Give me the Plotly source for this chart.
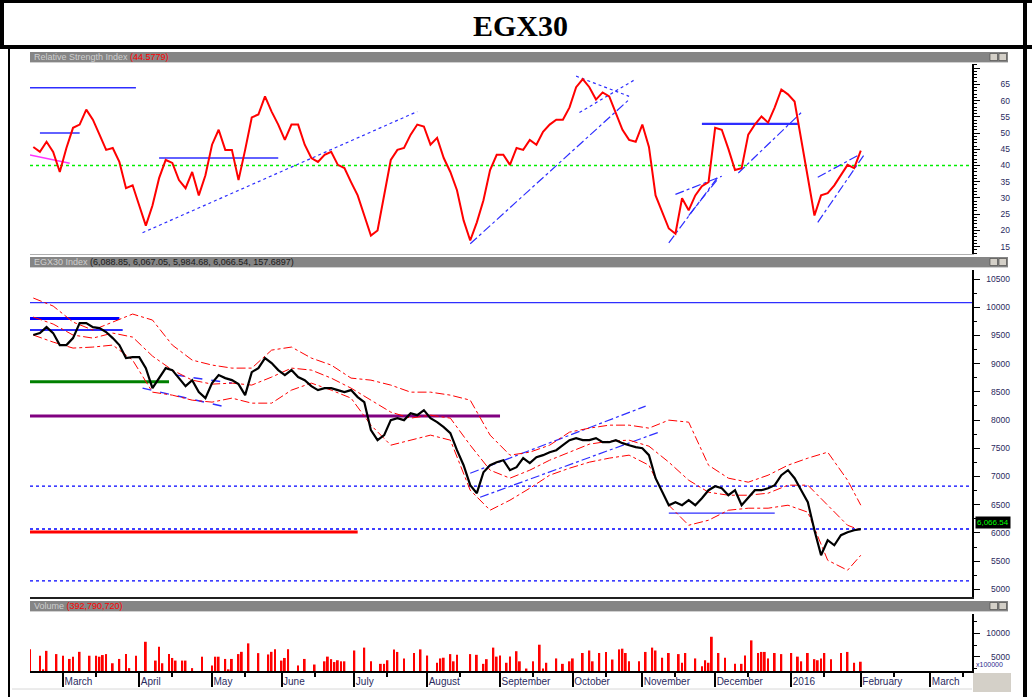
import plotly.graph_objects as go
import pandas as pd

W, H = 1032, 697


def px(x):
    return x / W


def py(y):
    return 1 - y / H


# ------------------------------------------------------------------ data
# RSI (every second trading day)
rsi_value = [45.7, 44.2, 47.3, 44.2, 38.0, 45.4, 51.6, 52.6, 57.2, 54.1,
             49.5, 44.8, 45.4, 41.1, 33.0, 33.9, 27.7, 21.5, 27.7, 36.1,
             41.7, 40.8, 35.5, 33.0, 38.0, 30.8, 37.0, 46.4, 51.0, 44.8,
             44.8, 35.5, 44.8, 54.8, 55.7, 61.3, 56.6, 52.6, 47.9, 52.6,
             52.6, 46.4, 42.3, 41.1, 43.3, 44.2, 40.2, 39.2, 34.9, 30.8,
             24.6, 18.4, 20.0, 30.8, 41.7, 44.8, 45.4, 49.5, 52.6, 52.0,
             46.4, 48.5, 42.3, 38.0, 32.4, 23.1, 16.9, 22.5, 29.3, 38.6,
             43.3, 43.3, 40.2, 45.4, 44.8, 47.9, 46.4, 50.4, 52.6, 54.1,
             54.1, 57.9, 64.1, 66.6, 64.1, 60.3, 62.5, 61.3, 56.3, 51.0,
             47.9, 47.3, 52.6, 45.7, 30.8, 25.6, 20.6, 19.0, 29.9, 26.2,
             30.8, 33.6, 34.9, 51.6, 51.0, 45.1, 38.6, 39.2, 49.5, 52.6,
             55.1, 53.2, 57.9, 63.4, 61.9, 59.7, 47.9, 35.5, 24.6, 30.8,
             31.5, 33.9, 37.0, 40.2, 39.2, 44.58]

# EGX30 close (every second trading day)
close_value = [9507, 9542, 9648, 9542, 9329, 9329, 9453, 9719, 9719, 9648,
               9631, 9560, 9453, 9329, 9099, 9116, 9116, 8921, 8566, 8744,
               8921, 8886, 8744, 8602, 8708, 8495, 8389, 8655, 8797, 8744,
               8708, 8637, 8442, 8850, 8921, 9099, 9010, 8886, 8797, 8886,
               8762, 8708, 8602, 8531, 8566, 8566, 8531, 8495, 8531, 8407,
               8318, 7821, 7644, 7733, 7999, 8034, 7999, 8123, 8087, 8176,
               8034, 7963, 7874, 7768, 7466, 7200, 6846, 6704, 7076, 7200,
               7254, 7289, 7112, 7165, 7325, 7236, 7342, 7378, 7431, 7466,
               7555, 7644, 7679, 7644, 7644, 7679, 7608, 7608, 7644, 7591,
               7555, 7520, 7502, 7378, 6970, 6721, 6491, 6544, 6491, 6580,
               6491, 6615, 6757, 6828, 6792, 6668, 6757, 6491, 6633, 6757,
               6757, 6792, 6846, 7023, 7112, 6970, 6757, 6544, 6047, 5604,
               5870, 5781, 5959, 6012, 6047, 6066.54]

# Bollinger bands (every sixth trading day)
band_upper = [10163, 10021, 9737, 9595, 9737, 9879, 9773, 9329, 9063, 8975,
              8921, 8921, 9240, 9294, 9099, 8975, 8744, 8708, 8620, 8495,
              8495, 8442, 8353, 7733, 7378, 7431, 7555, 7786, 7857, 7910,
              7910, 7857, 7999, 7963, 7200, 6970, 6899, 7023, 7200, 7325,
              7431, 6934, 6491]
band_middle = [9826, 9702, 9507, 9453, 9542, 9471, 9134, 8886, 8708, 8637,
               8655, 8620, 8762, 8921, 8886, 8744, 8566, 8353, 8141, 8034,
               8087, 8034, 7555, 7112, 6970, 7112, 7289, 7431, 7573, 7626,
               7644, 7537, 7254, 6934, 6721, 6668, 6668, 6704, 6846, 6846,
               6491, 6136, 6047]
band_lower = [9507, 9382, 9276, 9294, 9329, 9063, 8495, 8442, 8353, 8318,
              8389, 8300, 8300, 8531, 8655, 8531, 8389, 7910, 7555, 7644,
              7733, 7644, 6757, 6402, 6580, 6792, 7023, 7147, 7254, 7325,
              7378, 7200, 6491, 6136, 6225, 6402, 6438, 6438, 6491, 6367,
              5515, 5338, 5604]

# Volume (trading-day number, volume in units of 100,000)
vol_day = [0, 3, 4, 5, 8, 10, 12, 13, 15, 18, 20, 21, 22, 23, 25, 27, 29, 30,
           32, 35, 38, 39, 40, 42, 43, 44, 46, 47, 49, 52, 55, 56, 57, 59, 60,
           61, 63, 64, 66, 69, 72, 73, 74, 76, 77, 78, 81, 83, 86,
           89, 90, 91, 92, 93, 94, 95, 98, 101, 103, 106, 107, 108, 110, 111,
           113, 116, 118, 120, 123, 124, 125, 127, 128, 129, 133, 135, 137,
           138, 140, 141, 142, 144, 145, 147, 148, 150, 152, 154, 155, 156,
           159, 161, 163, 164, 167, 169, 170, 172, 174, 176, 178, 179, 180,
           181, 184, 186, 188, 189, 191, 193, 196, 197, 198, 201, 203, 204,
           205, 206, 208, 210, 213, 215, 216, 218, 220, 221, 222, 223, 225,
           227, 230, 232, 233, 235, 237, 238, 239, 240, 242, 245, 247, 249, 251]
vol_value = [6600, 5210, 2300, 6250, 5560, 5210, 4520, 5000, 6040, 5210, 5210,
             5000, 5350, 5560, 3600, 4520, 5560, 2560, 5210, 8190, 4170, 7150,
             3600, 5560, 4730, 4170, 4170, 4170, 2560, 5000, 3130, 5000, 5000,
             4520, 2300, 4520, 5560, 6040, 7850, 5770, 5480, 6040, 6600, 4170,
             4730, 6600, 3130, 4520, 3330,
             4013, 5016, 4476, 3858, 4244, 4013, 4013, 6327, 6944, 4013, 3473,
             3473, 4244, 6559, 6019, 4630, 5787, 6559, 5247, 3704, 4630, 4784,
             5556, 4013, 5401, 5556, 5401, 3473, 4476, 6944, 5016, 5247, 3704,
             5016, 6173, 4013, 2470, 4013, 7562, 2470, 3704, 4630, 3473, 4013,
             4630, 5787, 6327, 4013, 5787, 6019, 4399, 6559, 6713, 5787, 4013,
             4013, 6019, 6944, 6327, 4784, 5787, 5556, 3704, 5787, 4630, 2933,
             4244, 3704, 9259, 5787, 4784, 3473, 3473, 5247, 8487, 5787, 6019,
             6019, 4630, 5787, 5556, 5787, 5016, 4013, 5787, 4476, 4244, 4630,
             5787, 4476, 5787, 6019, 3704, 3928]

# analyst lines on the RSI pane (trading day, RSI value)
rsi_seg_day0 = [0, 0, 3, 39, 34, 165, 166, 133, 193, 195, 199, 214, 203, 238, 238, 0]
rsi_seg_day1 = [32, 12, 15, 75, 117, 181, 183, 181, 208, 209, 208, 233, 232, 252, 250, 285]
rsi_seg_val0 = [63.9, 43.2, 50.0, 42.3, 19.3, 67.5, 56.3, 15.9, 16.2, 31.1, 24.6, 37.7, 52.8, 22.5, 36.4, 40]
rsi_seg_val1 = [63.9, 40.7, 50.0, 42.3, 56.6, 61.3, 66.6, 60.3, 36.7, 36.7, 36.1, 56.3, 52.8, 43.3, 43.0, 40]

# analyst lines on the price pane (trading day, index level)
price_seg_day0 = [0, 0, 0, 0, 0, 0, 0, 0, 0, 193, 133, 136, 34, 44]
price_seg_day1 = [285, 27, 28, 42, 142, 99, 285, 285, 285, 225, 186, 190, 58, 61]
price_seg_val0 = [10080, 9802, 9596, 8680, 8072, 6016, 6831, 6069, 5149, 6350, 7058, 6632, 8566, 8797]
price_seg_val1 = [10080, 9802, 9596, 8680, 8072, 6016, 6831, 6069, 5149, 6350, 8247, 7786, 8247, 8655]

rsi_tick_vals = [15, 20, 25, 30, 35, 40, 45, 50, 55, 60, 65]
price_tick_vals = [5000, 5500, 6000, 6500, 7000, 7500, 8000, 8500, 9000, 9500, 10000, 10500]
vol_tick_vals = [5000, 10000]

# ------------------------------------------------------------------ styles
BLUE = "#2e2eff"
rsi_seg_style = [(BLUE, 1.5, "solid"), ("#ff33ff", 1.5, "solid"), (BLUE, 1.5, "solid"),
                 (BLUE, 1.5, "solid"), (BLUE, 1.2, "dot"), (BLUE, 1.2, "dot"),
                 (BLUE, 1.2, "dot"), (BLUE, 1.2, "dashdot"), (BLUE, 1.2, "dashdot"),
                 (BLUE, 1.2, "dashdot"), (BLUE, 1.2, "dashdot"), (BLUE, 1.2, "dashdot"),
                 (BLUE, 2.2, "solid"), (BLUE, 1.2, "dashdot"), (BLUE, 1.2, "dashdot"),
                 ("#00ee00", 1.5, "dot")]
price_seg_style = [(BLUE, 1.3, "solid"), ("#0000ff", 3, "solid"), (BLUE, 2, "solid"),
                   ("#008000", 3, "solid"), ("#800080", 3, "solid"), ("#ff0000", 3, "solid"),
                   ("#0000ff", 1.3, "dot"), ("#0000ff", 1.3, "dot"), ("#0000ff", 1.3, "dot"),
                   (BLUE, 1.3, "solid"), (BLUE, 1.2, "dashdot"), (BLUE, 1.2, "dashdot"),
                   (BLUE, 1.5, "dash"), (BLUE, 1.5, "dash")]

grid_day = list(range(1, 252, 2))
band_day = list(range(1, 248, 6)) + [251]

X_END = 284.6
trade_dates = pd.bdate_range(start="2015-02-15", periods=300, freq="C",
                             weekmask="Sun Mon Tue Wed Thu")
month_idx, month_txt, mid_idx = [], [], []
for k in range(1, len(trade_dates)):
    if k > X_END:
        break
    d, p = trade_dates[k], trade_dates[k - 1]
    if d.month != p.month:
        month_idx.append(k)
        month_txt.append("2016" if d.month == 1 else d.strftime("%B"))
    elif d.day >= 15 and p.day < 15:
        mid_idx.append(k)

fig = go.Figure()

# RSI pane
for i in range(len(rsi_seg_day0)):
    c, w, dsh = rsi_seg_style[i]
    fig.add_trace(go.Scatter(x=[rsi_seg_day0[i], rsi_seg_day1[i]],
                             y=[rsi_seg_val0[i], rsi_seg_val1[i]],
                             mode="lines", line=dict(color=c, width=w, dash=dsh),
                             xaxis="x", yaxis="y", hoverinfo="skip"))
fig.add_trace(go.Scatter(x=grid_day, y=rsi_value, mode="lines",
                         line=dict(color="#ff0000", width=2), xaxis="x", yaxis="y"))

# price pane
for i in range(len(price_seg_day0)):
    c, w, dsh = price_seg_style[i]
    fig.add_trace(go.Scatter(x=[price_seg_day0[i], price_seg_day1[i]],
                             y=[price_seg_val0[i], price_seg_val1[i]],
                             mode="lines", line=dict(color=c, width=w, dash=dsh),
                             xaxis="x2", yaxis="y2", hoverinfo="skip"))
for band in (band_upper, band_middle, band_lower):
    fig.add_trace(go.Scatter(x=band_day, y=band, mode="lines",
                             line=dict(color="#ff0000", width=1, dash="dashdot"),
                             xaxis="x2", yaxis="y2"))
fig.add_trace(go.Scatter(x=grid_day, y=close_value, mode="lines",
                         line=dict(color="#000000", width=2.2), xaxis="x2", yaxis="y2"))

# volume pane
fig.add_trace(go.Bar(x=vol_day, y=vol_value, width=0.55,
                     marker=dict(color="#ff0000", line=dict(width=0)),
                     xaxis="x3", yaxis="y3"))

# carriers so the right-hand label axes get drawn (nothing visible)
for xa, ya in (("x", "y4"), ("x2", "y5"), ("x3", "y6")):
    fig.add_trace(go.Scatter(x=[None], y=[None], mode="markers", xaxis=xa, yaxis=ya,
                             hoverinfo="skip", showlegend=False))

TICKFONT = dict(family="Liberation Sans", size=8.5, color="#2a2a5e")
xdom = [px(30), px(972)]
xbase = dict(domain=xdom, range=[0, X_END], showgrid=False, zeroline=False, fixedrange=True)


def line_axis(dom, rng, dtick, minor_dtick):
    return dict(domain=dom, range=rng, side="right", showline=True, linecolor="black",
                linewidth=2, ticks="outside", ticklen=6, tickcolor="black",
                tickmode="linear", tick0=0, dtick=dtick, showticklabels=False,
                showgrid=False, zeroline=False, fixedrange=True,
                minor=dict(dtick=minor_dtick, tick0=0, ticks="outside", ticklen=3,
                           tickcolor="black", showgrid=False))


def label_axis(base, rng, vals):
    return dict(overlaying=base, side="left", anchor="free", position=px(1010),
                range=rng, tickmode="array", tickvals=vals,
                ticktext=[str(v) for v in vals], ticks="", showline=False,
                showgrid=False, zeroline=False, tickfont=TICKFONT, fixedrange=True,
                showticklabels=True, visible=True)


rsi_rng = [12.75, 71.25]
price_rng = [4864, 10660]
vol_rng = [1944, 14124]

fig.update_layout(
    width=W, height=H, margin=dict(l=0, r=0, t=0, b=0),
    paper_bgcolor="white", plot_bgcolor="white", showlegend=False,
    xaxis=dict(**xbase, anchor="y", showticklabels=False, ticks="",
               showline=True, linecolor="#b0b0b0", linewidth=1),
    xaxis2=dict(**xbase, anchor="y2", showticklabels=False, ticks="",
                showline=True, linecolor="#202020", linewidth=2),
    xaxis3=dict(**xbase, anchor="y3", showline=True, linecolor="black", linewidth=1.5,
                tickmode="array", tickvals=month_idx, ticktext=month_txt,
                ticks="outside", ticklen=14, tickcolor="black", tickwidth=1.5,
                ticklabelposition="outside right",
                tickfont=dict(family="Liberation Sans", size=10, color="#2a2a5e"),
                minor=dict(tickvals=mid_idx, ticks="outside", ticklen=4, tickcolor="black")),
    yaxis=dict(**line_axis([py(254), py(64)], rsi_rng, 5, 1), anchor="x"),
    yaxis2=dict(**line_axis([py(597), py(270)], price_rng, 500, 250), anchor="x2"),
    yaxis3=dict(**line_axis([py(671), py(614)], vol_rng, 5000, 2500), anchor="x3"),
    yaxis4=label_axis("y", rsi_rng, rsi_tick_vals),
    yaxis5=label_axis("y2", price_rng, price_tick_vals),
    yaxis6=label_axis("y3", vol_rng, vol_tick_vals),
)

shapes = []


def rect(x0, y0, x1, y1, fill, lc=None, lw=0):
    shapes.append(dict(type="rect", xref="paper", yref="paper",
                       x0=px(x0), x1=px(x1), y0=py(y1), y1=py(y0),
                       fillcolor=fill, line=dict(color=lc or fill, width=lw), layer="above"))


def seg(x0, y0, x1, y1, color, width):
    shapes.append(dict(type="line", xref="paper", yref="paper",
                       x0=px(x0), x1=px(x1), y0=py(y0), y1=py(y1),
                       line=dict(color=color, width=width), layer="above"))


# pane header bars
for (y0, y1) in [(52, 62), (257, 267), (601, 611)]:
    rect(30, y0, 1008, y1, "#858585")
    seg(30, y1 + 0.5, 1008, y1 + 0.5, "#d0d0d0", 1)
    rect(990, y0 + 1.5, 997.5, y1 - 1.5, "#d4d0c8", "#404040", 0.6)
    rect(999, y0 + 1.5, 1006.5, y1 - 1.5, "#d4d0c8", "#404040", 0.6)

# bottom right box
rect(973, 673, 1011, 692, "#d4d0c8")
seg(12, 689, 972, 689, "#d8d8d8", 1)

# page frame
seg(0, 1.5, W, 1.5, "black", 3)
seg(0, 47, W, 47, "black", 4)
seg(2, 0, 2, 47, "black", 4)
seg(9, 47, 9, H, "black", 2)
seg(1025, 0, 1025, H, "black", 4)

annotations = [
    dict(x=px(520), y=py(25), xref="paper", yref="paper", showarrow=False,
         xanchor="center", yanchor="middle",
         text="<b>EGX30</b>", font=dict(family="Liberation Serif", size=30, color="black")),
    dict(x=px(32), y=py(57), xref="paper", yref="paper", showarrow=False,
         xanchor="left", yanchor="middle",
         text='<span style="color:#cfcfcf">Relative Strength Index </span>'
              '<span style="color:#ff0000">(44.5779)</span>',
         font=dict(family="Liberation Sans", size=9)),
    dict(x=px(32), y=py(262), xref="paper", yref="paper", showarrow=False,
         xanchor="left", yanchor="middle",
         text='<span style="color:#cfcfcf">EGX30 Index </span>'
              '<span style="color:#1a1a1a">(6,088.85, 6,067.05, 5,984.68, 6,066.54, 157.6897)</span>',
         font=dict(family="Liberation Sans", size=9)),
    dict(x=px(32), y=py(606), xref="paper", yref="paper", showarrow=False,
         xanchor="left", yanchor="middle",
         text='<span style="color:#cfcfcf">Volume </span>'
              '<span style="color:#ff0000">(392,790,720)</span>',
         font=dict(family="Liberation Sans", size=9)),
    dict(x=px(975), y=close_value[-1], xref="paper", yref="y2", showarrow=False,
         xanchor="left", yanchor="middle", yshift=7, text="6,066.54", bgcolor="black",
         borderpad=1, font=dict(family="Liberation Sans", size=8, color="#00ff00")),
    dict(x=px(974), y=py(664), xref="paper", yref="paper", showarrow=False,
         xanchor="left", yanchor="middle", text="x100000",
         font=dict(family="Liberation Sans", size=7, color="#2a2a8e")),
]

fig.update_layout(shapes=shapes, annotations=annotations)
fig.write_html("out.html")
